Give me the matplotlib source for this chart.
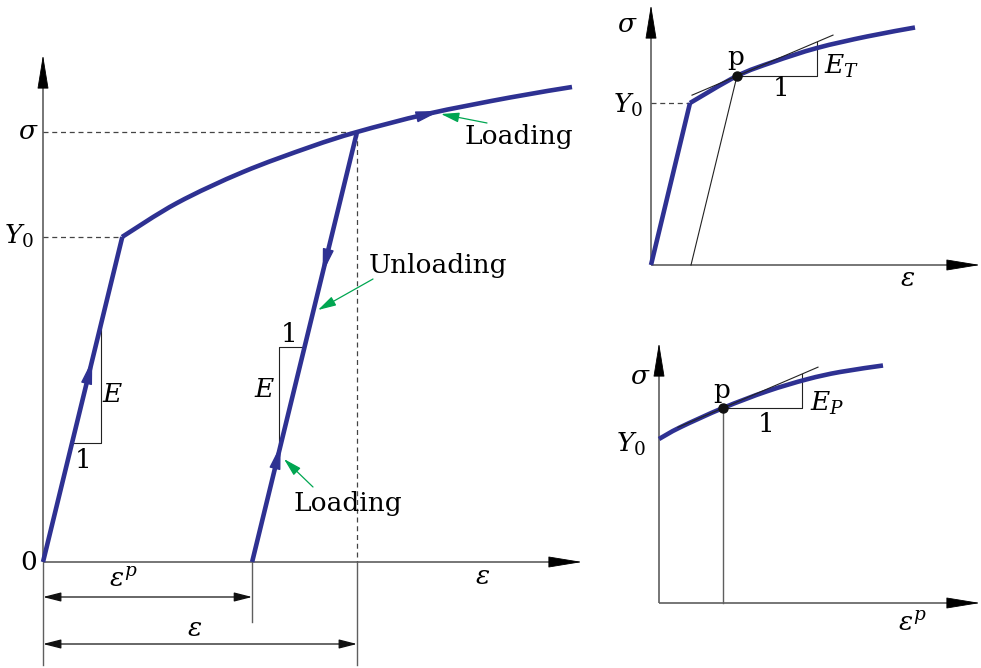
import matplotlib
matplotlib.use("Agg")
import matplotlib.pyplot as plt
from matplotlib.patches import FancyArrowPatch, PathPatch
from matplotlib.path import Path
import numpy as np

plt.rcParams["font.family"] = ["DejaVu Serif"]
plt.rcParams["mathtext.fontset"] = "dejavuserif"

BLUE = "#2e3192"
GREEN = "#00a651"
AXIS_GRAY = "#5f5f5f"
THIN = "#222222"
FS = 19

# ---------------- main diagram (strain, stress in schematic units) ----------------
E_MOD = 4.1                 # elastic slope
Y0_MAIN = 3.25              # initial yield stress
hard_eps = [0.79, 1.34, 2.00, 2.67, 3.14, 3.84, 4.67, 5.29]
hard_sig = [3.25, 3.59, 3.90, 4.15, 4.30, 4.48, 4.645, 4.75]
eps_unload, sig_unload = 3.14, 4.30      # state where unloading starts
eps_axis_end, sig_axis_end = 5.39, 5.07  # arrow tips of the axes
elastic_arrow_sig = 2.02                 # direction marks along the paths
unload_arrow_sig = 2.89
reload_arrow_sig = 1.17
hard_arrow_pt = (3.97, 4.51)

# ---------------- tangent-modulus inset ----------------
T_Y0 = 1.62
T_eps = [0.39, 0.86, 1.22, 1.66, 2.16, 2.64]
T_sig = [1.62, 1.89, 2.03, 2.17, 2.285, 2.375]
T_p = (0.86, 1.89)
T_slope = 0.426
T_tangent_eps = [0.41, 1.82]
T_tri_run = 0.80
T_eps_elastic_end = 0.40
T_axis_end = (3.29, 2.60)

# ---------------- plastic-modulus inset ----------------
P_eps = [0.00, 0.21, 0.64, 1.08, 1.48, 1.81, 2.24]
P_sig = [1.64, 1.756, 1.95, 2.117, 2.237, 2.31, 2.375]
P_p = (0.64, 1.95)
P_slope = 0.43
P_tangent_eps = [0.19, 1.59]
P_tri_run = 0.79
P_axis_end = (3.21, 2.60)


def smooth_curve(ax, xs, ys, **kw):
    """Stroke a smooth cubic path through the given knots."""
    pts = np.column_stack([xs, ys]).astype(float)
    ext = np.vstack([pts[0], pts, pts[-1]])
    verts = [pts[0]]
    codes = [Path.MOVETO]
    for i in range(1, len(ext) - 2):
        p0, p1, p2, p3 = ext[i - 1], ext[i], ext[i + 1], ext[i + 2]
        verts += [p1 + (p2 - p0) / 6, p2 - (p3 - p1) / 6, p2]
        codes += [Path.CURVE4] * 3
    ax.add_patch(PathPatch(Path(verts, codes), fill=False, capstyle="butt",
                           joinstyle="round", **kw))


def arrow(ax, tail, tip, color, lw=1.0, hl=10, hw=3, style="-|>"):
    ax.add_patch(FancyArrowPatch(
        tail, tip, arrowstyle=f"{style},head_length={hl},head_width={hw}",
        mutation_scale=1, color=color, lw=lw, shrinkA=0, shrinkB=0,
        clip_on=False, zorder=6))


def axes_arrows(ax, xend, yend):
    ax.plot([0, xend - 0.1], [0, 0], color=AXIS_GRAY, lw=1.2, zorder=2,
            solid_capstyle="butt")
    ax.plot([0, 0], [0, yend - 0.1], color=AXIS_GRAY, lw=1.2, zorder=2,
            solid_capstyle="butt")
    arrow(ax, (xend - 0.32, 0), (xend, 0), "black", lw=0.6, hl=22, hw=3.6)
    arrow(ax, (0, yend - 0.32), (0, yend), "black", lw=0.6, hl=22, hw=3.6)


def along(p, d, back):
    d = np.asarray(d, float)
    d = d / np.hypot(*d)
    return (p[0] - back * d[0], p[1] - back * d[1])


fig = plt.figure(figsize=(9.81, 6.68), dpi=100)

# ======================= main panel =======================
ax = fig.add_axes([0, 0, 600 / 981, 1])
ax.set_xlim(-0.43, 5.57)
ax.set_ylim(-1.06, 5.62)
ax.axis("off")

axes_arrows(ax, eps_axis_end, sig_axis_end)

eps_y = Y0_MAIN / E_MOD
eps_p = eps_unload - sig_unload / E_MOD

# reference lines
dash = (0, (4, 3))
ax.plot([0, eps_y], [Y0_MAIN, Y0_MAIN], color="#444444", lw=0.9, ls=dash)
ax.plot([0, eps_unload], [sig_unload, sig_unload], color="#444444", lw=0.9, ls=dash)
ax.plot([eps_unload, eps_unload], [sig_unload, 0], color="#444444", lw=0.9, ls=dash)
ax.plot([0, 0], [0, -1.03], color=AXIS_GRAY, lw=1.0)
ax.plot([eps_p, eps_p], [0, -0.60], color=AXIS_GRAY, lw=1.0)
ax.plot([eps_unload, eps_unload], [0, -1.03], color=AXIS_GRAY, lw=1.0)

# stress-strain path
ax.plot([0, eps_y], [0, Y0_MAIN], color=BLUE, lw=3.3, solid_capstyle="butt", zorder=4)
smooth_curve(ax, hard_eps, hard_sig, edgecolor=BLUE, lw=3.3, zorder=4)
ax.plot([eps_unload, eps_p], [sig_unload, 0], color=BLUE, lw=3.3,
        solid_capstyle="butt", zorder=4)

# direction marks
up = (1, E_MOD)
tip = (elastic_arrow_sig / E_MOD, elastic_arrow_sig)
arrow(ax, along(tip, up, 0.25), tip, BLUE, lw=1, hl=15, hw=3.5)
tip = (eps_p + unload_arrow_sig / E_MOD, unload_arrow_sig)
arrow(ax, along(tip, (-1, -E_MOD), 0.25), tip, BLUE, lw=1, hl=15, hw=3.5)
tip = (eps_p + reload_arrow_sig / E_MOD, reload_arrow_sig)
arrow(ax, along(tip, up, 0.25), tip, BLUE, lw=1, hl=15, hw=3.5)
arrow(ax, along(hard_arrow_pt, (0.80, 0.2), 0.25), hard_arrow_pt, BLUE,
      lw=1, hl=15, hw=3.5)

# slope triangles
ax.plot([0.29, 0.58, 0.58], [1.19, 1.19, 2.38], color=THIN, lw=0.8)
ax.text(0.40, 1.02, "1", fontsize=FS, ha="center", va="center")
ax.text(0.70, 1.67, "$E$", fontsize=FS, ha="center", va="center")
ax.plot([2.61, 2.36, 2.36], [2.15, 2.15, 1.09], color=THIN, lw=0.8)
ax.text(2.46, 2.28, "1", fontsize=FS, ha="center", va="center")
ax.text(2.22, 1.72, "$E$", fontsize=FS, ha="center", va="center")

# dimension arrows
arrow(ax, (0, -0.35), (eps_p, -0.35), "#111111", lw=0.9, hl=11, hw=2.8, style="<|-|>")
arrow(ax, (0, -0.82), (eps_unload, -0.82), "#111111", lw=0.9, hl=11, hw=2.8, style="<|-|>")
ax.text(0.80, -0.17, r"$\varepsilon^p$", fontsize=FS, ha="center", va="center")
ax.text(1.52, -0.66, r"$\varepsilon$", fontsize=FS, ha="center", va="center")

# axis labels
ax.text(-0.04, 4.30, r"$\sigma$", fontsize=FS, ha="right", va="center")
ax.text(-0.09, 3.26, r"$Y_0$", fontsize=FS, ha="right", va="center")
ax.text(-0.06, 0.0, "0", fontsize=FS, ha="right", va="center")
ax.text(4.40, -0.15, r"$\varepsilon$", fontsize=FS, ha="center", va="center")

# callouts
ax.text(4.76, 4.25, "Loading", fontsize=FS, ha="center", va="center")
arrow(ax, (4.44, 4.39), (3.98, 4.48), GREEN, lw=0.9, hl=11, hw=3)
ax.text(3.95, 2.96, "Unloading", fontsize=FS, ha="center", va="center")
arrow(ax, (3.30, 2.83), (2.75, 2.52), GREEN, lw=0.9, hl=11, hw=3)
ax.text(3.05, 0.59, "Loading", fontsize=FS, ha="center", va="center")
arrow(ax, (2.70, 0.75), (2.41, 1.03), GREEN, lw=0.9, hl=11, hw=3)

# ======================= tangent modulus inset =======================
ax2 = fig.add_axes([600 / 981, 368 / 668, 381 / 981, 300 / 668])
ax2.set_xlim(-0.51, 3.30)
ax2.set_ylim(-0.35, 2.65)
ax2.axis("off")
axes_arrows(ax2, *T_axis_end)

T_eps_y = T_eps[0]
ax2.plot([0, T_eps_y], [T_Y0, T_Y0], color="#444444", lw=0.9, ls=dash)
ax2.plot([0, T_eps_y], [0, T_Y0], color=BLUE, lw=3.3, solid_capstyle="butt", zorder=4)
smooth_curve(ax2, T_eps, T_sig, edgecolor=BLUE, lw=3.3, zorder=4)
ax2.plot([T_p[0], T_eps_elastic_end], [T_p[1], 0], color=THIN, lw=0.8)
tx = np.array(T_tangent_eps)
ax2.plot(tx, T_p[1] + T_slope * (tx - T_p[0]), color=THIN, lw=0.8, zorder=5)
ax2.plot([T_p[0], T_p[0] + T_tri_run, T_p[0] + T_tri_run],
         [T_p[1], T_p[1], T_p[1] + T_slope * T_tri_run], color=THIN, lw=0.8)
ax2.plot(*T_p, "o", color="#111111", ms=6.5, zorder=7)
ax2.text(0.85, 2.07, "p", fontsize=FS, ha="center", va="center")
ax2.text(1.30, 1.76, "1", fontsize=FS, ha="center", va="center")
ax2.text(1.73, 1.99, "$E_T$", fontsize=FS, ha="left", va="center")
ax2.text(-0.13, 2.41, r"$\sigma$", fontsize=FS, ha="right", va="center")
ax2.text(-0.08, 1.60, r"$Y_0$", fontsize=FS, ha="right", va="center")
ax2.text(2.57, -0.13, r"$\varepsilon$", fontsize=FS, ha="center", va="center")

# ======================= plastic modulus inset =======================
ax3 = fig.add_axes([600 / 981, 0, 381 / 981, 338 / 668])
ax3.set_xlim(-0.59, 3.22)
ax3.set_ylim(-0.65, 2.73)
ax3.axis("off")
axes_arrows(ax3, *P_axis_end)

smooth_curve(ax3, P_eps, P_sig, edgecolor=BLUE, lw=3.3, zorder=4)
ax3.plot([P_p[0], P_p[0]], [P_p[1], 0], color=AXIS_GRAY, lw=1.0)
px = np.array(P_tangent_eps)
ax3.plot(px, P_p[1] + P_slope * (px - P_p[0]), color=THIN, lw=0.8, zorder=5)
ax3.plot([P_p[0], P_p[0] + P_tri_run, P_p[0] + P_tri_run],
         [P_p[1], P_p[1], P_p[1] + P_slope * P_tri_run], color=THIN, lw=0.8)
ax3.plot(*P_p, "o", color="#111111", ms=6.5, zorder=7)
ax3.text(0.63, 2.12, "p", fontsize=FS, ha="center", va="center")
ax3.text(1.07, 1.78, "1", fontsize=FS, ha="center", va="center")
ax3.text(1.51, 2.00, "$E_P$", fontsize=FS, ha="left", va="center")
ax3.text(-0.08, 2.26, r"$\sigma$", fontsize=FS, ha="right", va="center")
ax3.text(-0.13, 1.59, r"$Y_0$", fontsize=FS, ha="right", va="center")
ax3.text(2.53, -0.20, r"$\varepsilon^p$", fontsize=FS, ha="center", va="center")

fig.savefig("out.png", dpi=100)
